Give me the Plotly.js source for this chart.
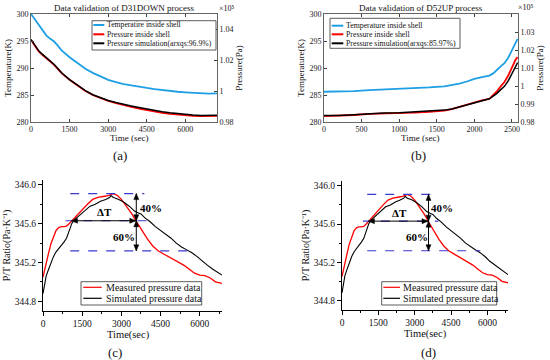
<!DOCTYPE html>
<html><head><meta charset="utf-8">
<script src="https://cdn.plot.ly/plotly-3.0.1.min.js"></script>
<style>html,body{margin:0;padding:0;background:#fff}#chart{width:550px;height:360px}</style>
</head><body><div id="chart"></div>
<script>
// ---------- Panel (a): D31DOWN ----------
const timeA = [0,150,300,450,600,750,900,1050,1200,1500,1800,2100,2400,2700,3000,3300,3600,3900,4200,4500,4800,5100,5400,5700,6000,6300,6600,6900,7230];
const tempA = [300.0,299.0,298.0,297.0,296.0,295.4,294.9,294.1,293.2,292.0,290.9,289.9,289.1,288.4,287.8,287.4,287.0,286.8,286.5,286.3,286.1,285.9,285.8,285.6,285.5,285.4,285.3,285.25,285.3];
const presA = [1.0330,1.0295,1.0256,1.0232,1.0211,1.0194,1.0169,1.0141,1.0114,1.0072,1.0037,1.0002,0.9974,0.9953,0.9936,0.9922,0.9908,0.9898,0.9887,0.9877,0.9866,0.9859,0.9852,0.9847,0.9844,0.9840,0.9838,0.9838,0.9840];
const simA  = [1.0333,1.0293,1.0259,1.0236,1.0214,1.0197,1.0171,1.0143,1.0116,1.0074,1.0039,1.0004,0.9976,0.9955,0.9939,0.9926,0.9913,0.9903,0.9893,0.9883,0.9873,0.9866,0.9859,0.9853,0.9849,0.9845,0.9842,0.9841,0.9843];
const legendA = ['Temperatire inside shell','Pressure inside shell','Pressure simulation(arxqs:96.9%)'];

// ---------- Panel (b): D52UP ----------
const timeB = [0,200,400,600,800,1000,1200,1400,1600,1700,1800,1900,2000,2100,2200,2250,2300,2350,2400,2450,2500,2550,2575];
const tempB = [285.6,285.6,285.7,285.9,286.0,286.1,286.2,286.4,286.6,286.8,287.1,287.5,288.0,288.3,288.6,289.0,289.7,290.3,290.9,291.9,293.3,294.8,295.4];
const presB = [0.9833,0.98345,0.9839,0.9845,0.98465,0.9848,0.98525,0.9857,0.9863,0.9872,0.9884,0.9896,0.9911,0.9920,0.9929,0.9950,0.9971,0.9998,1.0022,1.0058,1.0106,1.0148,1.0160];
const simB  = [0.9836,0.9836,0.98405,0.98465,0.98495,0.9851,0.98555,0.9860,0.9866,0.9872,0.9884,0.9896,0.9908,0.9917,0.9929,0.9944,0.9959,0.9980,0.9998,1.0028,1.0070,1.0115,1.0130];
const legendB = ['Temperature inside shell','Pressure inside shell','Pressure simulation(arxqs:85.97%)'];

// ---------- Panels (c) and (d): P/T ratio ----------
const measTime = [0,100,200,300,400,500,600,700,800,900,1000,1100,1300,1500,1700,1900,2100,2300,2500,2700,2850,3000,3200,3400,3600,3800,4000,4200,4400,4600,4800,5000,5200,5400,5600,5800,6000,6200,6400,6600,6850];
const measRatio = [345.05,345.15,345.28,345.39,345.47,345.53,345.56,345.57,345.57,345.575,345.60,345.63,345.69,345.75,345.80,345.85,345.87,345.88,345.89,345.91,345.89,345.85,345.78,345.70,345.61,345.52,345.44,345.37,345.32,345.29,345.26,345.23,345.20,345.17,345.13,345.09,345.07,345.065,345.04,345.00,344.985];
const simTime = [0,60,120,200,300,400,500,600,700,800,900,1000,1100,1200,1400,1600,1800,2000,2200,2400,2550,2600,2700,2900,3100,3300,3500,3650,3750,3900,4100,4300,4500,4700,4900,5100,5300,5500,5700,5900,6100,6300,6500,6700,6850];
const simRatio = [344.88,344.98,345.06,345.12,345.20,345.26,345.31,345.34,345.37,345.41,345.45,345.52,345.60,345.64,345.69,345.74,345.78,345.80,345.83,345.85,345.87,345.89,345.87,345.85,345.82,345.78,345.73,345.71,345.70,345.66,345.62,345.57,345.53,345.49,345.45,345.40,345.36,345.33,345.30,345.26,345.21,345.17,345.13,345.10,345.07];
const legendC = ['Measured pressure data','Simulated pressure data'];
const levels = [345.91, 345.63, 345.32];      // 100%, 60%, 0% reference levels
const levelLabels = ['40%','60%','\u0394T'];

// ---------- helpers ----------
const W = 550, H = 360;
const px = v => v / W;
const py = v => 1 - v / H;
const FONT = 'Liberation Serif, Times New Roman, serif';
const BLUE = '#1e9fe3', RED = '#ff0000', BLACK = '#000000', AX = '#404040';

const traces = [
  {x: timeA, y: tempA, xaxis: 'x', yaxis: 'y', mode: 'lines', line: {color: BLUE, width: 1.8}},
  {x: timeA, y: presA, xaxis: 'x', yaxis: 'y2', mode: 'lines', line: {color: RED, width: 1.8}},
  {x: timeA, y: simA, xaxis: 'x', yaxis: 'y2', mode: 'lines', line: {color: BLACK, width: 1.5}},
  {x: timeB, y: tempB, xaxis: 'x2', yaxis: 'y3', mode: 'lines', line: {color: BLUE, width: 1.8}},
  {x: timeB, y: presB, xaxis: 'x2', yaxis: 'y4', mode: 'lines', line: {color: RED, width: 1.8}},
  {x: timeB, y: simB, xaxis: 'x2', yaxis: 'y4', mode: 'lines', line: {color: BLACK, width: 1.5}},
  {x: measTime, y: measRatio, xaxis: 'x3', yaxis: 'y5', mode: 'lines', line: {color: RED, width: 1.3}},
  {x: simTime, y: simRatio, xaxis: 'x3', yaxis: 'y5', mode: 'lines', line: {color: BLACK, width: 1.1}},
  {x: measTime, y: measRatio, xaxis: 'x4', yaxis: 'y6', mode: 'lines', line: {color: RED, width: 1.3}},
  {x: simTime, y: simRatio, xaxis: 'x4', yaxis: 'y6', mode: 'lines', line: {color: BLACK, width: 1.1}}
];

const ttl = (text, size, standoff) => ({text: text, font: {family: FONT, size: size, color: '#111'}, standoff: standoff});
const matX = (dom, anchor, range, dtick) => ({
  domain: dom, anchor: anchor, range: range, dtick: dtick, tick0: 0,
  ticks: 'inside', ticklen: 3, tickcolor: AX, showline: true, linecolor: AX, linewidth: 0.8,
  mirror: 'ticks', showgrid: false, zeroline: false,
  tickfont: {family: FONT, size: 8, color: '#222'}
});
const matY = (dom, anchor, range, dtick) => ({
  domain: dom, anchor: anchor, range: range, dtick: dtick, tick0: 280,
  ticks: 'inside', ticklen: 3, tickcolor: AX, showline: true, linecolor: AX, linewidth: 0.8,
  showgrid: false, zeroline: false, tickfont: {family: FONT, size: 8, color: '#222'},
  title: ttl('Temperature(K)', 9, 3)
});
const matY2 = (over, anchor, range, vals) => ({
  overlaying: over, side: 'right', anchor: anchor, range: range, tickvals: vals,
  ticktext: vals.map(v => String(+v.toFixed(2))),
  ticks: 'inside', ticklen: 3, tickcolor: AX, showline: true, linecolor: AX, linewidth: 0.8,
  showgrid: false, zeroline: false, tickfont: {family: FONT, size: 8, color: '#222'},
  title: ttl('Pressure(Pa)', 9, 3)
});
const orgX = (dom, anchor) => ({
  domain: dom, anchor: anchor, range: [0, 6850], dtick: 1500, tick0: 0,
  ticks: 'outside', ticklen: 4, tickcolor: '#000', showline: true, linecolor: '#000', linewidth: 1,
  minor: {dtick: 750, ticklen: 2, ticks: 'outside', tickcolor: '#000'},
  showgrid: false, zeroline: false, tickfont: {family: FONT, size: 9.5, color: '#111'}
});
const orgY = (dom, anchor) => ({
  domain: dom, anchor: anchor, range: [344.7, 346.05], dtick: 0.4, tick0: 344.8, tickformat: '.1f',
  ticks: 'outside', ticklen: 4, tickcolor: '#000', showline: true, linecolor: '#000', linewidth: 1,
  minor: {dtick: 0.2, ticklen: 2, ticks: 'outside', tickcolor: '#000'},
  showgrid: false, zeroline: false, tickfont: {family: FONT, size: 9.5, color: '#111'},
  title: ttl('P/T Ratio(Pa·K⁻¹)', 10, 2)
});

const topDom = [py(122), py(14)];
const layout = {
  width: W, height: H, margin: {l: 0, r: 0, t: 0, b: 0},
  paper_bgcolor: '#fff', plot_bgcolor: 'rgba(0,0,0,0)', showlegend: false,
  xaxis: matX([px(31), px(217)], 'y', [0, 7230], 1500),
  yaxis: matY(topDom, 'x', [280, 300], 5),
  yaxis2: matY2('y', 'x', [0.98, 1.0497], [0.98, 1.00, 1.02, 1.04]),
  xaxis2: matX([px(324), px(518)], 'y3', [0, 2580], 500),
  yaxis3: matY(topDom, 'x2', [280, 300], 5),
  yaxis4: matY2('y3', 'x2', [0.98, 1.04], [0.98, 0.99, 1.00, 1.01, 1.02, 1.03]),
  xaxis3: orgX([px(43), px(222)], 'y5'),
  yaxis5: orgY([py(311), py(180)], 'x3'),
  xaxis4: orgX([px(342), px(508)], 'y6'),
  yaxis6: orgY([py(310), py(181)], 'x4'),
  shapes: [], annotations: []
};

const ann = (text, x, y, size, extra) => Object.assign({
  text: text, x: px(x), y: py(y), xref: 'paper', yref: 'paper', showarrow: false,
  font: {family: FONT, size: size, color: '#111'}, xanchor: 'center', yanchor: 'middle'
}, extra || {});

// titles and horizontal labels
layout.annotations.push(
  ann('Data validation of D31DOWN process', 124, 8, 9),
  ann('Data validation of D52UP process', 421, 8, 9),
  ann('×10⁵', 227, 8, 8),
  ann('×10⁵', 526, 7, 8),
  ann('Time (sec)', 129, 138, 9),
  ann('Time (sec)', 420, 138, 9),
  ann('(a)', 120, 155, 13),
  ann('(b)', 418, 155, 13),
  ann('Time(sec)', 128, 335, 10.5),
  ann('Time(sec)', 425, 334, 10.5),
  ann('(c)', 115, 352, 13),
  ann('(d)', 428, 352, 13)
);

// legends drawn as boxes with line samples and text
function legendBox(x0, x1, y0, y1, rows, names, colors, lx0, lx1, tx, size, lw) {
  layout.shapes.push({type: 'rect', xref: 'paper', yref: 'paper', x0: px(x0), x1: px(x1), y0: py(y1), y1: py(y0),
    line: {color: '#333', width: 0.8}, fillcolor: '#fff', layer: 'above'});
  rows.forEach((ry, i) => {
    layout.shapes.push({type: 'line', xref: 'paper', yref: 'paper', x0: px(lx0), x1: px(lx1), y0: py(ry), y1: py(ry),
      line: {color: colors[i], width: lw}, layer: 'above'});
    layout.annotations.push(ann(names[i], tx, ry, size, {xanchor: 'left'}));
  });
}
legendBox(92, 216, 20.7, 50, [25, 34.3, 43.3], legendA, [BLUE, RED, BLACK], 93.3, 104.3, 104.5, 7.7, 2);
legendBox(330, 460, 18.3, 48.3, [25.7, 34.3, 43.3], legendB, [BLUE, RED, BLACK], 331.7, 343.3, 343.5, 7.8, 2);
legendBox(81, 201.7, 281.7, 305, [287.3, 298.3], legendC, [RED, BLACK], 83.3, 101.7, 104, 10, 1.2);
legendBox(381.7, 496.7, 281.7, 305, [287.3, 298.3], legendC, [RED, BLACK], 383.3, 400, 401, 10, 1.2);

// reference levels, arrows (line + pixel-sized heads) and labels on the ratio panels
const HEADS = {up: 'M0,0 L-2.5,-6 L2.5,-6 Z', down: 'M0,0 L-2.5,6 L2.5,6 Z',
               left: 'M0,0 L6,-2.5 L6,2.5 Z', right: 'M0,0 L-6,-2.5 L-6,2.5 Z'};
[['x3', 'y5'], ['x4', 'y6']].forEach(([xr, yr]) => {
  const dashStarts = [1040, 860, 1040], dashEnds = [3880, 3980, 5710];
  levels.forEach((lv, i) => layout.shapes.push({type: 'line', xref: xr, yref: yr,
    x0: dashStarts[i], x1: dashEnds[i], y0: lv, y1: lv, line: {color: '#3a3ad0', width: 1.2, dash: 'dash'}}));
  const seg = (x0, y0, x1, y1) => layout.shapes.push({type: 'line', xref: xr, yref: yr, x0: x0, y0: y0, x1: x1, y1: y1,
    line: {color: '#000', width: 1}});
  const head = (x, y, dir) => layout.shapes.push({type: 'path', xref: xr, yref: yr, xsizemode: 'pixel', ysizemode: 'pixel',
    xanchor: x, yanchor: y, path: HEADS[dir], fillcolor: '#000', line: {color: '#000', width: 0.5}});
  seg(3570, levels[1], 3570, levels[0]);
  seg(3570, levels[2], 3570, levels[1]);
  seg(1090, levels[1], 3550, levels[1]);
  head(3570, levels[0], 'up'); head(3570, levels[1], 'down');
  head(3570, levels[1], 'up'); head(3570, levels[2], 'down');
  head(1090, levels[1], 'left'); head(3550, levels[1], 'right');
  const lbl = (t, x, y) => ({text: '<b>' + t + '</b>', x: x, y: y, xref: xr, yref: yr, showarrow: false,
    font: {family: FONT, size: 11, color: '#000'}, xanchor: 'center', yanchor: 'middle'});
  layout.annotations.push(lbl(levelLabels[0], 4130, 345.765), lbl(levelLabels[1], 3090, 345.46), lbl(levelLabels[2], 2360, 345.72));
});

Plotly.newPlot('chart', traces, layout, {staticPlot: true, displayModeBar: false});
</script>
</body></html>
